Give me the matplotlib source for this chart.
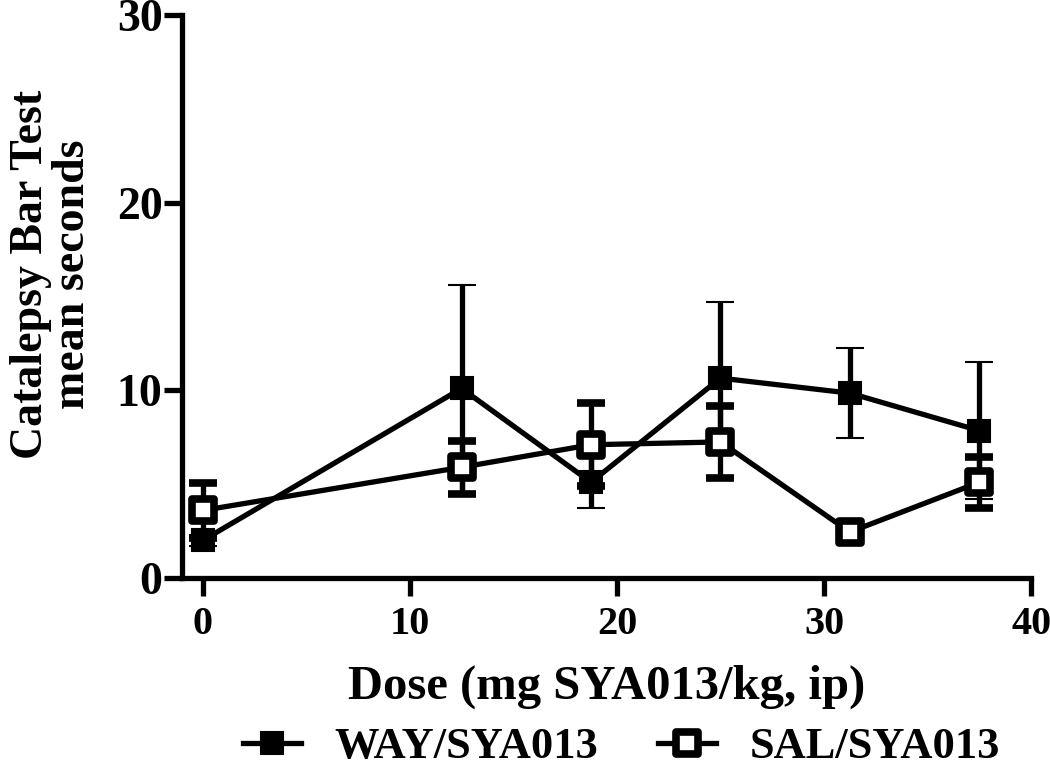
import matplotlib
matplotlib.use("Agg")
import matplotlib.pyplot as plt
from matplotlib.lines import Line2D
from matplotlib.markers import MarkerStyle

plt.rcParams['font.family'] = ['Liberation Serif', 'DejaVu Serif']
plt.rcParams['font.weight'] = 'bold'

dose = [0, 12.5, 18.75, 25, 31.25, 37.5]

way_mean = [2.0, 10.1, 5.1, 10.65, 9.85, 7.85]
way_sem = [0.3, 5.5, 1.35, 4.05, 2.4, 3.65]

sal_mean = [3.6, 5.9, 7.1, 7.25, 2.45, 5.1]
sal_sem = [1.45, 1.4, 2.2, 1.9, 0.2, 1.35]

labels = ['WAY/SYA013', 'SAL/SYA013']

fig = plt.figure(figsize=(10.5, 7.72), dpi=100)
ax = fig.add_axes([0.1733, 0.2513, 0.8087, 0.7293])

lw = 3.8
sq = MarkerStyle('s', joinstyle='round')

ax.errorbar(dose, way_mean, yerr=way_sem, color='black', lw=lw, marker='s',
            markersize=16, mfc='black', mec='black', mew=1.5,
            ecolor='black', elinewidth=lw, capsize=10, capthick=lw,
            clip_on=False, zorder=3)
ax.errorbar(dose, sal_mean, yerr=sal_sem, color='black', lw=lw, marker=sq,
            markersize=16, mfc='white', mec='black', mew=5.5,
            ecolor='black', elinewidth=lw, capsize=10, capthick=lw,
            clip_on=False, zorder=4)

ax.set_xlim(-1, 40)
ax.set_ylim(0, 30)
ax.set_xticks([0, 10, 20, 30, 40])
ax.set_yticks([0, 10, 20, 30])

for s in ['top', 'right']:
    ax.spines[s].set_visible(False)
for s in ['left', 'bottom']:
    ax.spines[s].set_linewidth(lw)
    ax.spines[s].set_capstyle('projecting')

ax.tick_params(axis='both', width=lw, length=13)
ax.tick_params(axis='y', labelsize=33, pad=1)
ax.tick_params(axis='x', labelsize=29, pad=7)

ax.set_xlabel('Dose (mg SYA013/kg, ip)', fontsize=35, fontweight='bold', labelpad=16)
ax.set_ylabel('Catalepsy Bar Test\nmean seconds', fontsize=33, fontweight='bold',
              linespacing=1.0)
ax.yaxis.set_label_coords(-0.104, 0.54)

# legend handles: line + marker only
h_way = Line2D([], [], color='black', lw=lw, marker='s', markersize=16,
               mfc='black', mec='black', mew=1.5)
h_sal = Line2D([], [], color='black', lw=lw, marker=sq, markersize=16,
               mfc='white', mec='black', mew=5.5)
fig.legend([h_way, h_sal], labels, loc='center', ncol=2, frameon=False,
           fontsize=32, bbox_to_anchor=(0.592, 0.032), handlelength=1.3,
           columnspacing=1.35, handletextpad=0.75, borderpad=0)

fig.savefig('out.png', dpi=100)
